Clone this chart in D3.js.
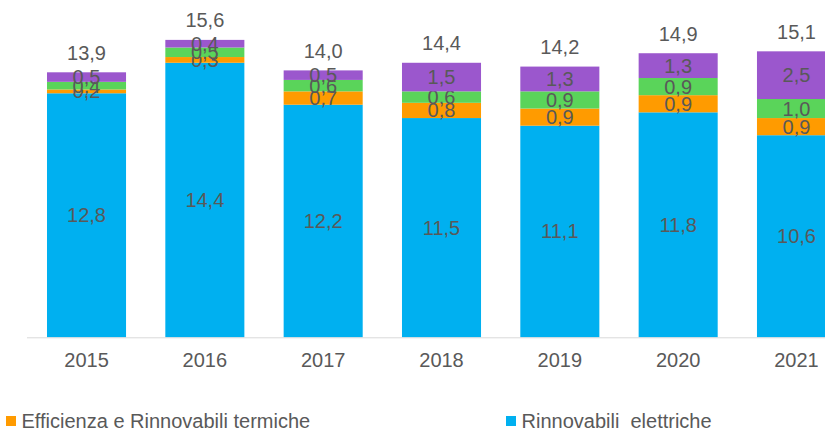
<!DOCTYPE html>
<html>
<head>
<meta charset="utf-8">
<script src="https://cdn.jsdelivr.net/npm/d3@7"></script>
<style>
  body { margin: 0; background: #ffffff; }
  #svgOutput svg { display: block; }
  text { font-family: Arial, "Liberation Sans", sans-serif; fill: #595959; }
</style>
</head>
<body>
<div id="svgOutput"></div>
<script>
// chart data

const years = ["2015", "2016", "2017", "2018", "2019", "2020", "2021"];
const rinnovabiliElettriche = [12.8, 14.4, 12.2, 11.5, 11.1, 11.8, 10.6];
const efficienzaTermiche = [0.2, 0.3, 0.7, 0.8, 0.9, 0.9, 0.9];
const serieVerde = [0.4, 0.5, 0.6, 0.6, 0.9, 0.9, 1.0];
const serieViola = [0.5, 0.4, 0.5, 1.5, 1.3, 1.3, 2.5];
const totals = [13.9, 15.6, 14.0, 14.4, 14.2, 14.9, 15.1];

const seriesKeys = ["elettriche", "termiche", "verde", "viola"];
const seriesColors = ["#00b0f0", "#ff9b00", "#5ad45a", "#9b57cd"];
const legendItems = [
  { name: "Efficienza e Rinnovabili termiche", color: "#ff9b00" },
  { name: "Rinnovabili  elettriche", color: "#00b0f0" }
];

(function () {
  document.addEventListener('DOMContentLoaded', function () {

    // config

    const width = 825;
    const height = 433;
    const baseline = 337.3;
    const fmt = (v) => d3.format(".1f")(v).replace(".", ",");

    // data massaging

    const table = years.map((y, i) => ({
      year: y,
      elettriche: rinnovabiliElettriche[i],
      termiche: efficienzaTermiche[i],
      verde: serieVerde[i],
      viola: serieViola[i],
      total: totals[i]
    }));

    const stacked = d3.stack().keys(seriesKeys)(table);

    // main svg

    const svg = d3.select("#svgOutput")
      .append("svg")
      .attr("width", width)
      .attr("height", height)
      .attr("viewBox", [0, 0, width, height]);

    // scales

    const x = d3.scaleBand()
      .domain(years)
      .range([27.35, 27.35 + 7 * 118.33])
      .paddingInner(0.332)
      .paddingOuter(0.166);

    const y = d3.scaleLinear()
      .domain([0, 13.9])
      .range([baseline, 72.3]);

    const color = d3.scaleOrdinal()
      .domain(seriesKeys)
      .range(seriesColors);

    // bars

    const layers = svg.selectAll("g.layer")
      .data(stacked)
      .enter()
      .append("g")
      .attr("class", "layer")
      .attr("fill", (d) => color(d.key));

    layers.selectAll("rect")
      .data((d) => d)
      .enter()
      .append("rect")
      .attr("x", (d) => x(d.data.year))
      .attr("y", (d) => y(d[1]))
      .attr("width", x.bandwidth())
      .attr("height", (d) => y(d[0]) - y(d[1]));

    // segment labels

    layers.selectAll("text")
      .data((d) => d.map((p) => ({ p: p, key: d.key })))
      .enter()
      .append("text")
      .attr("x", (d) => x(d.p.data.year) + x.bandwidth() / 2)
      .attr("y", (d) => (y(d.p[0]) + y(d.p[1])) / 2 + 7)
      .attr("text-anchor", "middle")
      .attr("font-size", "20px")
      .text((d) => fmt(d.p.data[d.key]));

    // total labels

    svg.selectAll("text.total")
      .data(table)
      .enter()
      .append("text")
      .attr("class", "total")
      .attr("x", (d) => x(d.year) + x.bandwidth() / 2)
      .attr("y", (d) => y(d3.sum(seriesKeys, (k) => d[k])) - 12.5)
      .attr("text-anchor", "middle")
      .attr("font-size", "20px")
      .text((d) => fmt(d.total));

    // x axis

    const xAxis = svg.append("g")
      .attr("transform", `translate(0,${baseline})`)
      .call(d3.axisBottom(x).tickSize(0).tickPadding(16));

    xAxis.select(".domain")
      .attr("d", `M27,0.5H${width}`)
      .attr("stroke", "#d9d9d9");

    xAxis.selectAll("text")
      .attr("font-size", "20px")
      .attr("font-family", "Arial, 'Liberation Sans', sans-serif")
      .attr("fill", "#595959");

    // legend

    const legendX = [6, 506];

    const legend = svg.selectAll("g.legend")
      .data(legendItems)
      .enter()
      .append("g")
      .attr("class", "legend")
      .attr("transform", (d, i) => `translate(${legendX[i]},416)`);

    legend.append("rect")
      .attr("width", 10)
      .attr("height", 10)
      .attr("fill", (d) => d.color);

    legend.append("text")
      .attr("x", 15.5)
      .attr("y", 12)
      .attr("font-size", "20px")
      .attr("xml:space", "preserve")
      .style("white-space", "pre")
      .text((d) => d.name);
  });
})();
</script>
</body>
</html>
